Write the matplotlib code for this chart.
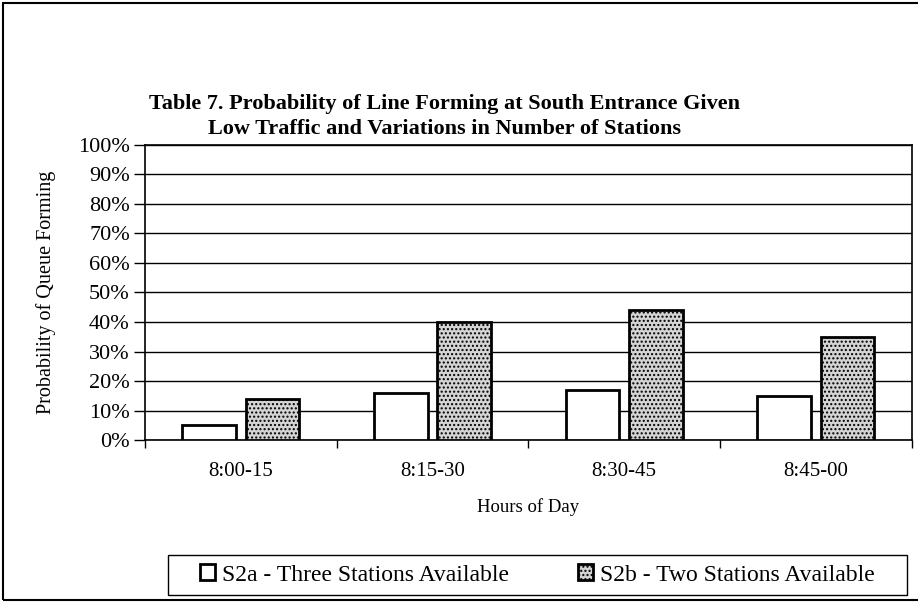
import numpy as np
import matplotlib.pyplot as plt
from matplotlib.patches import Rectangle
from matplotlib.ticker import FixedLocator, PercentFormatter

hours = ['8:00-15', '8:15-30', '8:30-45', '8:45-00']
three_stations = [5, 16, 17, 15]
two_stations = [14, 40, 44, 35]
series_names = ['S2a - Three Stations Available', 'S2b - Two Stations Available']

plt.rcParams['font.family'] = ['Liberation Serif', 'DejaVu Serif']
plt.rcParams['hatch.color'] = '#8c8c8c'

fig = plt.figure(figsize=(9.18, 6.03), dpi=100)
ax = fig.add_axes([0.158, 0.27, 0.835, 0.49])

x = np.arange(len(hours))
w = 0.28
off = 0.165
b1 = ax.bar(x - off, three_stations, w, color='white', edgecolor='black', linewidth=2,
            label=series_names[0], zorder=3)
b2 = ax.bar(x + off, two_stations, w, color='#d4d4d4', edgecolor='black', linewidth=2,
            hatch='....', label=series_names[1], zorder=3)

ax.set_xlim(-0.5, len(hours) - 0.5)
ax.set_ylim(0, 100)
ax.set_yticks(range(0, 101, 10))
ax.yaxis.set_major_formatter(PercentFormatter(decimals=0))
ax.grid(axis='y', color='black', linewidth=1, zorder=0)

ax.set_xticks(x)
ax.set_xticklabels(hours, fontsize=15)
ax.tick_params(axis='x', which='major', length=0, pad=16)
ax.xaxis.set_minor_locator(FixedLocator(np.arange(-0.5, len(hours), 1)))
ax.tick_params(axis='x', which='minor', length=6, width=1)
ax.tick_params(axis='y', length=8, width=1, labelsize=16, pad=3)

for s in ax.spines.values():
    s.set_color('black')
    s.set_linewidth(1.2)

ax.set_ylabel('Probability of Queue Forming', fontsize=14.5, labelpad=16)
ax.set_xlabel('Hours of Day', fontsize=13.5, labelpad=12)

fig.text(0.484, 0.807, 'Table 7. Probability of Line Forming at South Entrance Given\nLow Traffic and Variations in Number of Stations',
         ha='center', va='center', fontsize=16, fontweight='bold', linespacing=1.3)

# legend without its own frame; the box is drawn separately (wider than the text)
leg = fig.legend(handles=[b1, b2], loc='center', bbox_to_anchor=(0.5855, 0.0464),
                 ncol=2, frameon=False, fontsize=17, handlelength=0.64, handleheight=0.64,
                 handletextpad=0.3, columnspacing=2.9, borderpad=0, borderaxespad=0)
fig.patches.append(Rectangle((168 / 918, 8 / 603), 739 / 918, 40 / 603, transform=fig.transFigure,
                             fill=False, edgecolor='black', linewidth=1))

fig.patches.append(Rectangle((0.0035, 0.005), 1.2, 0.99, transform=fig.transFigure,
                             fill=False, edgecolor='black', linewidth=1.5))

fig.savefig('out.png', dpi=100)
